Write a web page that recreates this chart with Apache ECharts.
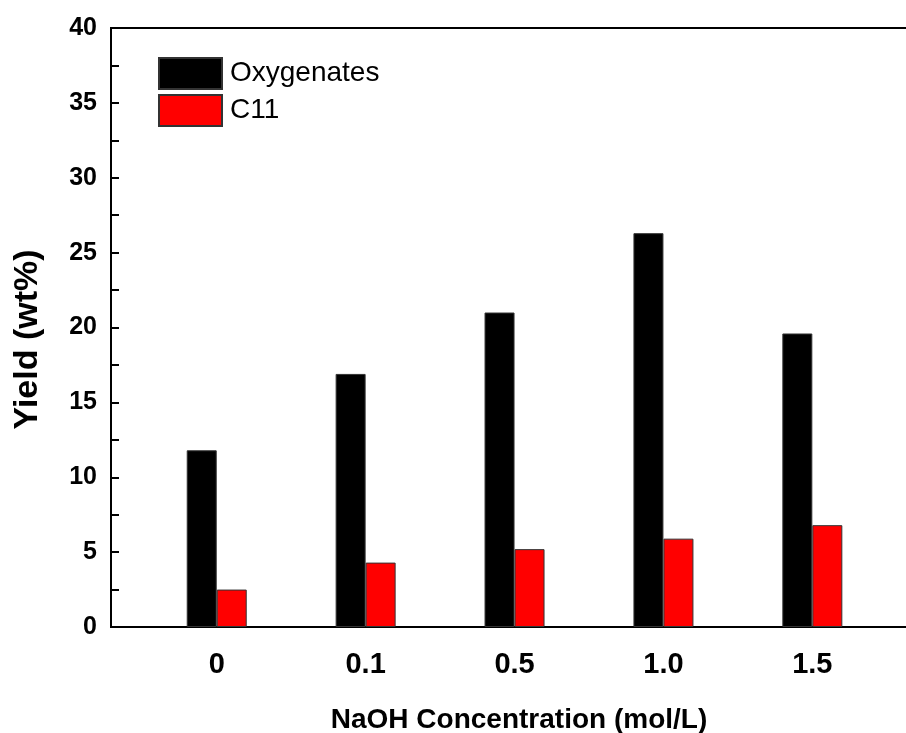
<!DOCTYPE html>
<html>
<head>
<meta charset="utf-8">
<script src="https://cdn.jsdelivr.net/npm/echarts@6/dist/echarts.min.js"></script>
<style>
html,body{margin:0;padding:0;background:#fff;}
#chart{width:906px;height:733px;}
</style>
</head>
<body>
<div id="chart"></div>
<script>
const categories = ['0', '0.1', '0.5', '1.0', '1.5'];
const oxygenates = [11.8, 16.9, 21.0, 26.3, 19.6];
const c11 = [2.5, 4.3, 5.2, 5.9, 6.8];
const seriesNames = ['Oxygenates', 'C11'];
const xTitle = 'NaOH Concentration (mol/L)';
const yTitle = 'Yield (wt%)';

const positions = categories.map((c, i) => i + 1);
const FONT = '"Liberation Sans", Arial, sans-serif';

const chart = echarts.init(document.getElementById('chart'));
chart.setOption({
  animation: false,
  backgroundColor: '#fff',
  grid: { left: 111, top: 28, width: 816, bottom: 106, outerBoundsMode: 'none', containLabel: false,
          show: true, borderColor: '#000', borderWidth: 2, backgroundColor: 'transparent' },
  legend: {
    orient: 'vertical', left: 158, top: 57, padding: 0, itemGap: 4,
    itemWidth: 63, itemHeight: 31, icon: 'rect',
    data: seriesNames,
    textStyle: { fontSize: 28, fontFamily: FONT, color: '#000', padding: [0, 0, 0, 3] }
  },
  xAxis: {
    type: 'value', min: 0.29, max: 5.77,
    name: xTitle, nameLocation: 'middle', nameGap: 79,
    nameTextStyle: { fontSize: 28, fontWeight: 'bold', fontFamily: FONT, color: '#000' },
    axisLine: { show: true, lineStyle: { color: '#000', width: 2 } },
    axisTick: { show: false },
    splitLine: { show: false },
    axisLabel: {
      customValues: positions,
      formatter: v => categories[Math.round(v) - 1] || '',
      fontSize: 29, fontWeight: 'bold', fontFamily: FONT, color: '#000', margin: 23
    }
  },
  yAxis: {
    type: 'value', min: 0, max: 40, interval: 5,
    name: yTitle, nameLocation: 'middle', nameRotate: 90, nameGap: 66,
    nameTextStyle: { fontSize: 34, fontWeight: 'bold', fontFamily: FONT, color: '#000', padding: [0, 24, 0, 0] },
    axisLine: { show: true, lineStyle: { color: '#000', width: 2 } },
    axisTick: { show: true, inside: true, length: 8, lineStyle: { color: '#000', width: 2 } },
    minorTick: { show: true, splitNumber: 2, length: 8, lineStyle: { color: '#000', width: 2 } },
    splitLine: { show: false },
    axisLabel: { fontSize: 25, fontWeight: 'bold', fontFamily: FONT, color: '#000', margin: 14 }
  },
  series: [
    {
      name: seriesNames[0], type: 'bar', barWidth: 30, barGap: '0%',
      itemStyle: { color: '#000', borderColor: '#333', borderWidth: 1 },
      data: positions.map((p, i) => [p, oxygenates[i]])
    },
    {
      name: seriesNames[1], type: 'bar', barWidth: 30, barGap: '0%',
      itemStyle: { color: '#ff0000', borderColor: '#333', borderWidth: 1 },
      data: positions.map((p, i) => [p, c11[i]])
    }
  ]
});
</script>
</body>
</html>
